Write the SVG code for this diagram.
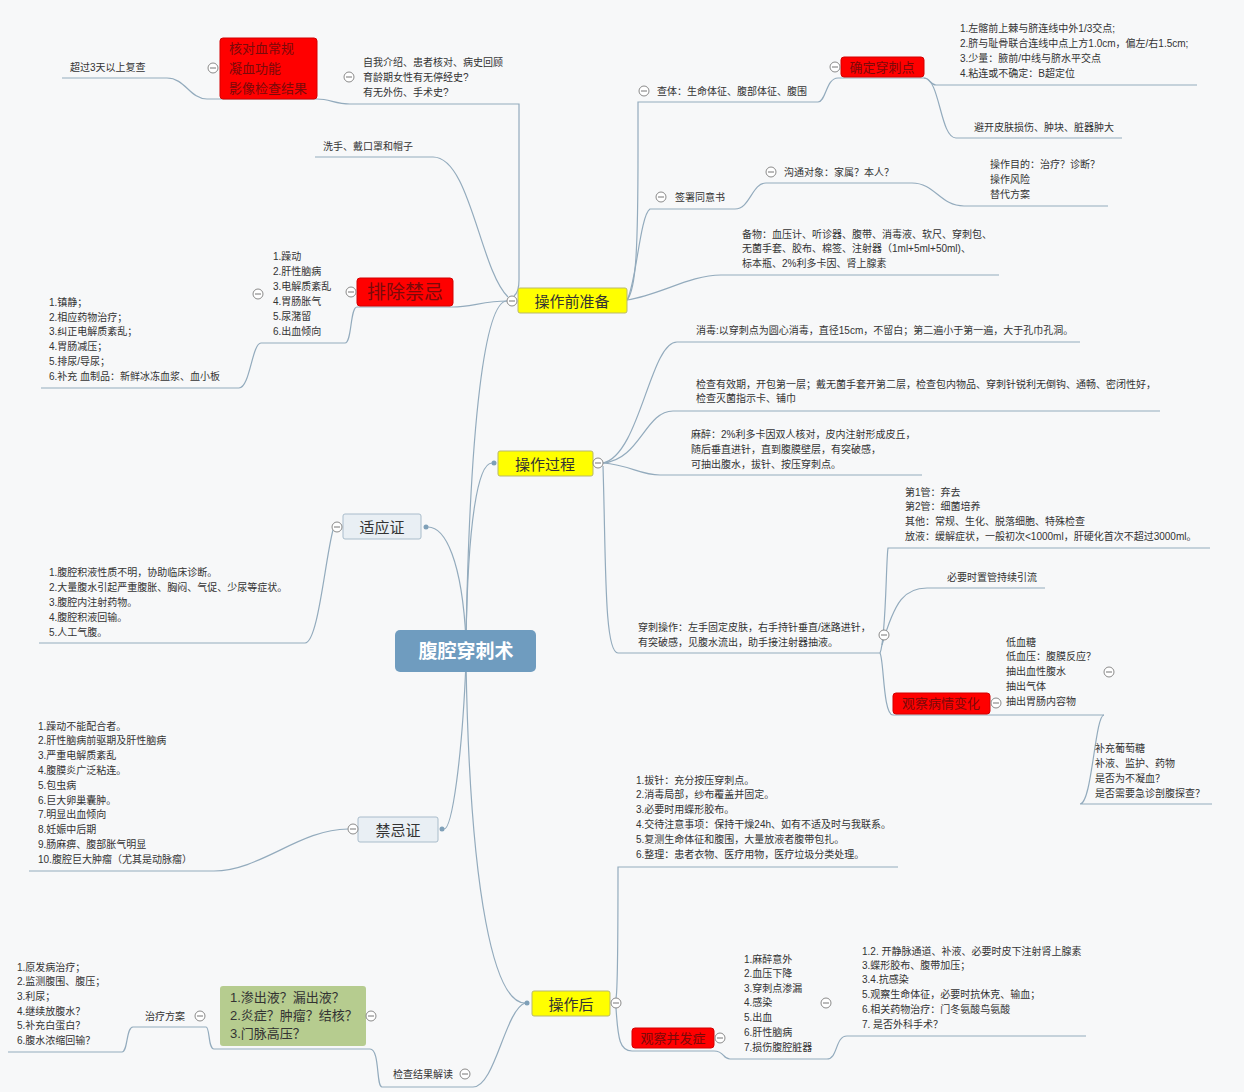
<svg xmlns="http://www.w3.org/2000/svg" xmlns:xlink="http://www.w3.org/1999/xlink" width="1244" height="1092" viewBox="0 0 1244 1092">
<style>
.t{font-family:"Liberation Sans","Noto Sans CJK SC",sans-serif;font-size:10px;fill:#333}
.t13{font-family:"Liberation Sans","Noto Sans CJK SC",sans-serif;font-size:13px;fill:#333}
.lbl{font-family:"Liberation Sans","Noto Sans CJK SC",sans-serif;text-anchor:middle;dominant-baseline:central}
.yl{fill:#ffff00;stroke:#b9b96c;stroke-width:1}
.yt{font-size:15px;fill:#333}
.rd{fill:#ff0000;stroke:#d40000;stroke-width:1}
.rt{fill:#7a0a0a}
.gy{fill:#e9eff4;stroke:#a9bccb;stroke-width:1}
.conn path{fill:none;stroke:#93abbd;stroke-width:1.2}
.dot{fill:#7fa0b8}
</style>
<defs>
<g id="cm"><circle r="5" fill="#fff" stroke="#8a8a8a" stroke-width="1"/><line x1="-3" y1="0" x2="3" y2="0" stroke="#777" stroke-width="1"/></g>
</defs>
<rect width="1244" height="1092" fill="#f7f8f9"/>

<g class="conn" id="connectors">
<path d="M466,640 C470,420 485,301 507,301"/>
<path d="M466,640 C468,520 478,463 492,463"/>
<path d="M466,640 C462,560 445,527 428,527"/>
<path d="M466,662 C462,760 452,829 444,829"/>
<path d="M466,662 C470,900 495,1003 525,1003"/>
<path d="M514,296 Q519,292 519,280 V104 H350"/>
<path d="M350,104 C335,104 330,99 317,99 H220"/>
<path d="M220,99 H207 C190,99 185,78 167,78 H62"/>
<path d="M508,297 C480,270 470,157 433,157 H315"/>
<path d="M507,301 C485,301 470,307 453,307 H357"/>
<path d="M357,307 C350,307 352,343 345,343 H261"/>
<path d="M261,343 C252,343 250,388 239,388 H41"/>
<path d="M627,300 C636,290 638,250 638,150 V102 H818"/>
<path d="M818,102 C826,102 826,78 838,78 H924"/>
<path d="M924,78 C930,78 930,85 936,85 H1197"/>
<path d="M924,78 C940,78 940,138 956,138 H1122"/>
<path d="M627,300 C636,285 640,215 650,209 H735"/>
<path d="M735,209 C750,209 752,183 766,183 H912"/>
<path d="M912,183 C935,183 940,206 964,206 H1108"/>
<path d="M627,300 C660,295 690,275 721,275 H999"/>
<path d="M603,463 C640,455 650,342 677,342 H1080"/>
<path d="M603,463 C640,460 645,411 673,411 H1160"/>
<path d="M603,463 C630,465 640,475 660,475 H922"/>
<path d="M603,466 C606,560 604,653 618,653 H880"/>
<path d="M880,653 C886,640 886,560 888,548 H1210"/>
<path d="M882,645 C895,600 905,588 927,588 H1045"/>
<path d="M880,653 C884,660 883,715 893,715 H990"/>
<path d="M990,715 H1104"/>
<path d="M1104,715 C1095,715 1092,804 1080,804 H1212"/>
<path d="M616,998 C618,990 618,880 618,867 H898"/>
<path d="M616,1008 C618,1040 620,1051 632,1051 H714"/>
<path d="M714,1051 C725,1051 722,1059 730,1059 H827"/>
<path d="M827,1059 C838,1059 835,1036 847,1036 H1086"/>
<path d="M525,1003 C505,1010 495,1087 473,1087 H382"/>
<path d="M382,1087 C376,1087 380,1049 370,1049 H220"/>
<path d="M220,1049 H214 C208,1049 210,1027 206,1027 H133"/>
<path d="M133,1027 C126,1027 128,1052 122,1052 H8"/>
<path d="M333,530 C325,560 318,643 305,643 H39"/>
<path d="M348,829 C300,829 260,871 214,871 H29"/>
</g>

<g id="root"><rect x="395" y="630" width="141" height="42" rx="5" fill="#6f9cbf"/><text class="lbl" x="466" y="651" font-size="19" font-weight="bold" fill="#fff">腹腔穿刺术</text></g>

<g id="n-prep"><rect class="yl" x="518" y="288" width="109" height="25" rx="2"/><text class="lbl yt" x="572" y="301">操作前准备</text><use href="#cm" x="512" y="301"/></g>
<g id="n-proc"><rect class="yl" x="498" y="451" width="95" height="25" rx="2"/><text class="lbl yt" x="545" y="464">操作过程</text><use href="#cm" x="598" y="463"/><circle class="dot" cx="494" cy="463" r="2.5"/></g>
<g id="n-post"><rect class="yl" x="532" y="991" width="78" height="25" rx="2"/><text class="lbl yt" x="571" y="1004">操作后</text><use href="#cm" x="616" y="1003"/><circle class="dot" cx="527" cy="1003" r="2.5"/></g>
<g id="n-ind"><rect class="gy" x="343" y="514" width="78" height="25" rx="2"/><text class="lbl yt" x="382" y="527">适应证</text><use href="#cm" x="337" y="527"/><circle class="dot" cx="426" cy="527" r="2.5"/></g>
<g id="n-contra"><rect class="gy" x="358" y="817" width="80" height="25" rx="2"/><text class="lbl yt" x="398" y="830">禁忌证</text><use href="#cm" x="353" y="829"/><circle class="dot" cx="442" cy="829" r="2.5"/></g>

<g id="n-check"><rect class="rd" x="220" y="38" width="97" height="61" rx="3"/>
<text class="t13 rt" x="229" y="52.5">核对血常规</text><text class="t13 rt" x="229" y="72.5">凝血功能</text><text class="t13 rt" x="229" y="92.5">影像检查结果</text><use href="#cm" x="213" y="68"/></g>
<g id="n-3day"><text class="t" x="70" y="71">超过3天以上复查</text></g>
<g id="n-intro"><use href="#cm" x="349" y="77"/><text class="t" x="363" y="65.5">自我介绍、患者核对、病史回顾</text><text class="t" x="363" y="80.5">育龄期女性有无停经史?</text><text class="t" x="363" y="95.5">有无外伤、手术史?</text></g>
<g id="n-wash"><text class="t" x="323" y="149.5">洗手、戴口罩和帽子</text></g>

<g id="n-excl"><rect class="rd" x="357" y="278" width="96" height="28" rx="3"/><text class="lbl rt" x="405" y="292" font-size="19">排除禁忌</text><use href="#cm" x="351" y="292"/></g>
<g id="n-excl-list"><use href="#cm" x="258" y="294"/>
<text class="t" x="273" y="259.5">1.躁动</text><text class="t" x="273" y="274.5">2.肝性脑病</text><text class="t" x="273" y="289.5">3.电解质紊乱</text><text class="t" x="273" y="304.5">4.胃肠胀气</text><text class="t" x="273" y="319.5">5.尿潴留</text><text class="t" x="273" y="334.5">6.出血倾向</text></g>
<g id="n-excl-treat">
<text class="t" x="49" y="305.5">1.镇静；</text><text class="t" x="49" y="320.5">2.相应药物治疗；</text><text class="t" x="49" y="334.5">3.纠正电解质紊乱；</text><text class="t" x="49" y="349.5">4.胃肠减压；</text><text class="t" x="49" y="364.5">5.排尿/导尿；</text><text class="t" x="49" y="379.5">6.补充 血制品：新鲜冰冻血浆、血小板</text></g>

<g id="n-exam"><use href="#cm" x="644" y="91"/><text class="t" x="657" y="94.5">查体：生命体征、腹部体征、腹围</text></g>
<g id="n-point"><rect class="rd" x="841" y="57" width="83" height="20" rx="3"/><text class="lbl rt" x="882" y="67" font-size="13">确定穿刺点</text><use href="#cm" x="835" y="67"/></g>
<g id="n-point-list"><text class="t" x="960" y="31.5">1.左髂前上棘与脐连线中外1/3交点;</text><text class="t" x="960" y="46.5">2.脐与耻骨联合连线中点上方1.0cm，偏左/右1.5cm;</text><text class="t" x="960" y="61.5">3.少量：腋前/中线与脐水平交点</text><text class="t" x="960" y="76.5">4.粘连或不确定：B超定位</text></g>
<g id="n-avoid"><text class="t" x="974" y="130.5">避开皮肤损伤、肿块、脏器肿大</text></g>
<g id="n-sign"><use href="#cm" x="661" y="197"/><text class="t" x="675" y="200.5">签署同意书</text></g>
<g id="n-talk"><use href="#cm" x="771" y="172"/><text class="t" x="784" y="175.5">沟通对象：家属？本人？</text></g>
<g id="n-purpose"><text class="t" x="990" y="167.5">操作目的：治疗？诊断？</text><text class="t" x="990" y="182.5">操作风险</text><text class="t" x="990" y="197.5">替代方案</text></g>
<g id="n-items"><text class="t" x="742" y="237.5">备物：血压计、听诊器、腹带、消毒液、软尺、穿刺包、</text><text class="t" x="742" y="251.5">无菌手套、胶布、棉签、注射器（1ml+5ml+50ml)、</text><text class="t" x="742" y="266.5">标本瓶、2%利多卡因、肾上腺素</text></g>

<g id="n-disinf"><text class="t" x="696" y="333.5">消毒:以穿刺点为圆心消毒，直径15cm，不留白；第二遍小于第一遍，大于孔巾孔洞。</text></g>
<g id="n-open"><text class="t" x="696" y="387.5">检查有效期，开包第一层；戴无菌手套开第二层，检查包内物品、穿刺针锐利无倒钩、通畅、密闭性好，</text><text class="t" x="696" y="401.5">检查灭菌指示卡、铺巾</text></g>
<g id="n-anes"><text class="t" x="691" y="437.5">麻醉：2%利多卡因双人核对，皮内注射形成皮丘，</text><text class="t" x="691" y="452.5">随后垂直进针，直到腹膜壁层，有突破感，</text><text class="t" x="691" y="467.5">可抽出腹水，拔针、按压穿刺点。</text></g>
<g id="n-puncture"><text class="t" x="638" y="630.5">穿刺操作：左手固定皮肤，右手持针垂直/迷路进针，</text><text class="t" x="638" y="645.5">有突破感，见腹水流出，助手接注射器抽液。</text><use href="#cm" x="884" y="635"/></g>
<g id="n-tubes"><text class="t" x="905" y="495.5">第1管：弃去</text><text class="t" x="905" y="509.5">第2管：细菌培养</text><text class="t" x="905" y="524.5">其他：常规、生化、脱落细胞、特殊检查</text><text class="t" x="905" y="539.5">放液：缓解症状，一般初次&lt;1000ml，肝硬化首次不超过3000ml。</text></g>
<g id="n-drain"><text class="t" x="947" y="580.5">必要时置管持续引流</text></g>
<g id="n-observe"><rect class="rd" x="893" y="693" width="97" height="21" rx="3"/><text class="lbl rt" x="941" y="703.5" font-size="13">观察病情变化</text><use href="#cm" x="996" y="703"/></g>
<g id="n-observe-list"><text class="t" x="1006" y="645.5">低血糖</text><text class="t" x="1006" y="659.5">低血压：腹膜反应？</text><text class="t" x="1006" y="674.5">抽出血性腹水</text><text class="t" x="1006" y="689.5">抽出气体</text><text class="t" x="1006" y="704.5">抽出胃肠内容物</text><use href="#cm" x="1109" y="672"/></g>
<g id="n-observe-treat"><text class="t" x="1095" y="751.5">补充葡萄糖</text><text class="t" x="1095" y="766.5">补液、监护、药物</text><text class="t" x="1095" y="781.5">是否为不凝血？</text><text class="t" x="1095" y="796.5">是否需要急诊剖腹探查？</text></g>

<g id="n-after"><text class="t" x="636" y="783.5">1.拔针：充分按压穿刺点。</text><text class="t" x="636" y="797.5">2.消毒局部，纱布覆盖并固定。</text><text class="t" x="636" y="812.5">3.必要时用蝶形胶布。</text><text class="t" x="636" y="827.5">4.交待注意事项：保持干燥24h、如有不适及时与我联系。</text><text class="t" x="636" y="842.5">5.复测生命体征和腹围，大量放液者腹带包扎。</text><text class="t" x="636" y="857.5">6.整理：患者衣物、医疗用物，医疗垃圾分类处理。</text></g>
<g id="n-compl"><rect class="rd" x="632" y="1028" width="82" height="20" rx="3"/><text class="lbl rt" x="673" y="1038" font-size="13">观察并发症</text><use href="#cm" x="720" y="1038"/></g>
<g id="n-compl-list"><text class="t" x="744" y="962.5">1.麻醉意外</text><text class="t" x="744" y="976.5">2.血压下降</text><text class="t" x="744" y="991.5">3.穿刺点渗漏</text><text class="t" x="744" y="1005.5">4.感染</text><text class="t" x="744" y="1020.5">5.出血</text><text class="t" x="744" y="1035.5">6.肝性脑病</text><text class="t" x="744" y="1050.5">7.损伤腹腔脏器</text><use href="#cm" x="826" y="1003"/></g>
<g id="n-compl-treat"><text class="t" x="862" y="954.5">1.2. 开静脉通道、补液、必要时皮下注射肾上腺素</text><text class="t" x="862" y="968.5">3.蝶形胶布、腹带加压；</text><text class="t" x="862" y="982.5">3.4.抗感染</text><text class="t" x="862" y="997.5">5.观察生命体征，必要时抗休克、输血；</text><text class="t" x="862" y="1012.5">6.相关药物治疗：门冬氨酸鸟氨酸</text><text class="t" x="862" y="1027.5">7. 是否外科手术？</text></g>

<g id="n-result"><text class="t" x="393" y="1077.5">检查结果解读</text><use href="#cm" x="465" y="1074"/></g>
<g id="n-green"><rect x="220" y="986" width="146" height="60" rx="3" fill="#b6cc8f"/><text class="t13" x="230" y="1001.5">1.渗出液？漏出液？</text><text class="t13" x="230" y="1019.5">2.炎症？肿瘤？结核？</text><text class="t13" x="230" y="1037.5">3.门脉高压？</text><use href="#cm" x="371" y="1016"/></g>
<g id="n-plan"><text class="t" x="145" y="1019.5">治疗方案</text><use href="#cm" x="200" y="1016"/></g>
<g id="n-plan-list"><text class="t" x="17" y="970.5">1.原发病治疗；</text><text class="t" x="17" y="984.5">2.监测腹围、腹压；</text><text class="t" x="17" y="999.5">3.利尿；</text><text class="t" x="17" y="1014.5">4.继续放腹水？</text><text class="t" x="17" y="1028.5">5.补充白蛋白？</text><text class="t" x="17" y="1043.5">6.腹水浓缩回输？</text></g>

<g id="n-ind-list"><text class="t" x="49" y="575.5">1.腹腔积液性质不明，协助临床诊断。</text><text class="t" x="49" y="590.5">2.大量腹水引起严重腹胀、胸闷、气促、少尿等症状。</text><text class="t" x="49" y="605.5">3.腹腔内注射药物。</text><text class="t" x="49" y="620.5">4.腹腔积液回输。</text><text class="t" x="49" y="635.5">5.人工气腹。</text></g>
<g id="n-contra-list"><text class="t" x="38" y="729.5">1.躁动不能配合者。</text><text class="t" x="38" y="744.3">2.肝性脑病前驱期及肝性脑病</text><text class="t" x="38" y="759.1">3.严重电解质紊乱</text><text class="t" x="38" y="773.9">4.腹膜炎广泛粘连。</text><text class="t" x="38" y="788.7">5.包虫病</text><text class="t" x="38" y="803.5">6.巨大卵巢囊肿。</text><text class="t" x="38" y="818.3">7.明显出血倾向</text><text class="t" x="38" y="833.1">8.妊娠中后期</text><text class="t" x="38" y="847.9">9.肠麻痹、腹部胀气明显</text><text class="t" x="38" y="862.7">10.腹腔巨大肿瘤（尤其是动脉瘤）</text></g>
</svg>
